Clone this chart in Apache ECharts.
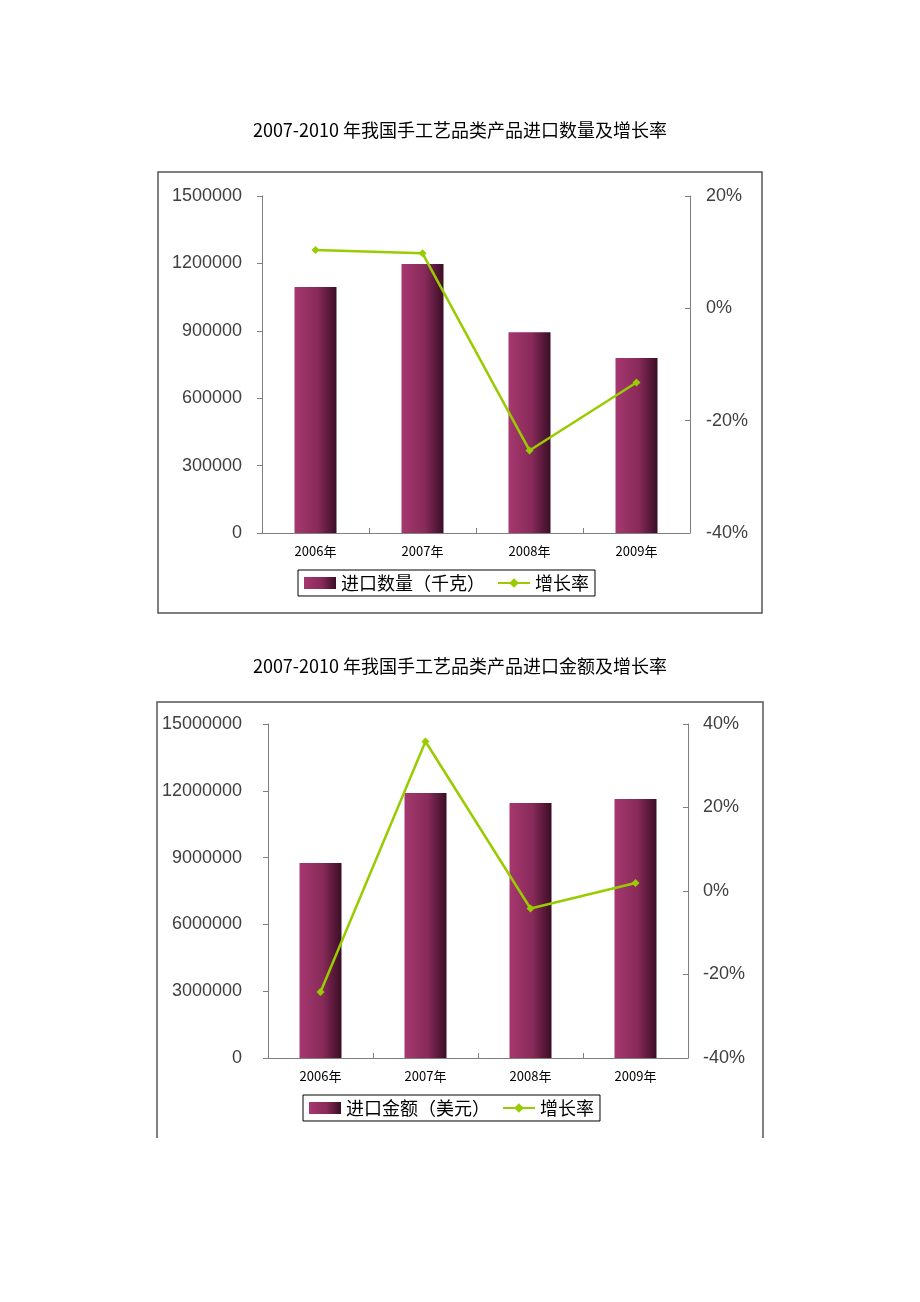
<!DOCTYPE html>
<html>
<head>
<meta charset="utf-8">
<script src="https://cdn.jsdelivr.net/npm/echarts@6/dist/echarts.min.js"></script>
<style>
html,body{margin:0;padding:0;background:#fff;}
#c{width:920px;height:1302px;}
</style>
</head>
<body>
<div id="c"></div>
<script>
// ---- data ----
var categories = ['2006年', '2007年', '2008年', '2009年'];
var title1 = '2007-2010 年我国手工艺品类产品进口数量及增长率';
var title2 = '2007-2010 年我国手工艺品类产品进口金额及增长率';
var qtyName = '进口数量（千克）';
var amtName = '进口金额（美元）';
var rateName = '增长率';
var qtyValues = [1095000, 1197000, 894000, 779000];
var qtyRate = [10.4, 9.8, -25.3, -13.2];
var amtValues = [8760000, 11900000, 11450000, 11630000];
var amtRate = [-24.2, 35.8, -4.2, 1.9];
var qtyTicks = {min: 0, max: 1500000, interval: 300000};
var qtyRateTicks = {min: -40, max: 20, interval: 20};
var amtTicks = {min: 0, max: 15000000, interval: 3000000};
var amtRateTicks = {min: -40, max: 40, interval: 20};

var chart = echarts.init(document.getElementById('c'), null, {renderer: 'canvas'});

var barColor = new echarts.graphic.LinearGradient(0, 0, 1, 0, [
  {offset: 0, color: '#a6386f'},
  {offset: 0.55, color: '#882a5a'},
  {offset: 1, color: '#3a0e25'}
]);
var green = '#99cc00';
var axisGray = '#7f7f7f';
var numFont = 'Liberation Sans, Arial, sans-serif';
var cjkFont = '"Noto Sans CJK SC", sans-serif';

function leftAxis(gi, t, margin) {
  return {
    type: 'value', gridIndex: gi, position: 'left',
    min: t.min, max: t.max, interval: t.interval,
    axisLine: {show: true, lineStyle: {color: axisGray, width: 1}},
    axisTick: {show: true, inside: false, length: 5, lineStyle: {color: axisGray}},
    splitLine: {show: false},
    axisLabel: {color: '#404040', fontSize: 18, fontFamily: numFont, margin: margin,
      formatter: function (v) { return String(v); }}
  };
}
function rightAxis(gi, t, margin) {
  return {
    type: 'value', gridIndex: gi, position: 'right',
    min: t.min, max: t.max, interval: t.interval,
    axisLine: {show: true, lineStyle: {color: axisGray, width: 1}},
    axisTick: {show: true, inside: true, length: 5, lineStyle: {color: axisGray}},
    splitLine: {show: false},
    axisLabel: {color: '#404040', fontSize: 18, fontFamily: numFont, margin: margin, formatter: '{value}%'}
  };
}
function catAxis(gi) {
  return {
    type: 'category', gridIndex: gi, data: categories, boundaryGap: true,
    axisLine: {show: true, lineStyle: {color: axisGray, width: 1}},
    axisTick: {show: true, inside: true, length: 5, alignWithLabel: false, lineStyle: {color: axisGray}},
    axisLabel: {color: '#000', fontSize: 13, fontFamily: cjkFont, margin: 12}
  };
}
function legendCfg(left, top, names) {
  return {
    left: left, top: top, orient: 'horizontal',
    data: names,
    borderColor: '#000', borderWidth: 1, padding: [4, 6, 4, 6],
    itemGap: 12, itemWidth: 32, itemHeight: 12,
    textStyle: {fontSize: 18, fontFamily: cjkFont, color: '#000'},
    selectedMode: false
  };
}

var option = {
  backgroundColor: '#ffffff',
  animation: false,
  title: [
    {text: title1, left: 'center', top: 116, textStyle: {fontSize: 18, fontWeight: 'normal', fontFamily: cjkFont, color: '#000'}},
    {text: title2, left: 'center', top: 652, textStyle: {fontSize: 18, fontWeight: 'normal', fontFamily: cjkFont, color: '#000'}}
  ],
  graphic: [
    {type: 'rect', shape: {x: 158, y: 172, width: 604, height: 441}, style: {fill: 'none', stroke: '#555', lineWidth: 1.5}, silent: true},
    {type: 'polyline', shape: {points: [[157, 1138], [157, 702], [763, 702], [763, 1138]]}, style: {fill: 'none', stroke: '#555', lineWidth: 1.5}, silent: true}
  ],
  legend: [
    legendCfg(298, 570, [{name: qtyName, icon: 'rect'}, {name: rateName}]),
    legendCfg(303, 1095, [{name: amtName, icon: 'rect'}, {name: rateName}])
  ],
  grid: [
    {left: 262, top: 196, width: 428, height: 337, containLabel: false},
    {left: 268, top: 724, width: 420, height: 334, containLabel: false}
  ],
  xAxis: [catAxis(0), catAxis(1)],
  yAxis: [
    leftAxis(0, qtyTicks, 20),
    rightAxis(0, qtyRateTicks, 16),
    leftAxis(1, amtTicks, 26),
    rightAxis(1, amtRateTicks, 15)
  ],
  series: [
    {name: qtyName, type: 'bar', xAxisIndex: 0, yAxisIndex: 0, data: qtyValues, barWidth: 42,
     itemStyle: {color: barColor}},
    {name: rateName, type: 'line', xAxisIndex: 0, yAxisIndex: 1, data: qtyRate,
     symbol: 'diamond', symbolSize: 8, lineStyle: {color: green, width: 2.5}, itemStyle: {color: green}},
    {name: amtName, type: 'bar', xAxisIndex: 1, yAxisIndex: 2, data: amtValues, barWidth: 42,
     itemStyle: {color: barColor}},
    {name: rateName, type: 'line', xAxisIndex: 1, yAxisIndex: 3, data: amtRate,
     symbol: 'diamond', symbolSize: 8, lineStyle: {color: green, width: 2.5}, itemStyle: {color: green}}
  ]
};
chart.setOption(option);
</script>
</body>
</html>
